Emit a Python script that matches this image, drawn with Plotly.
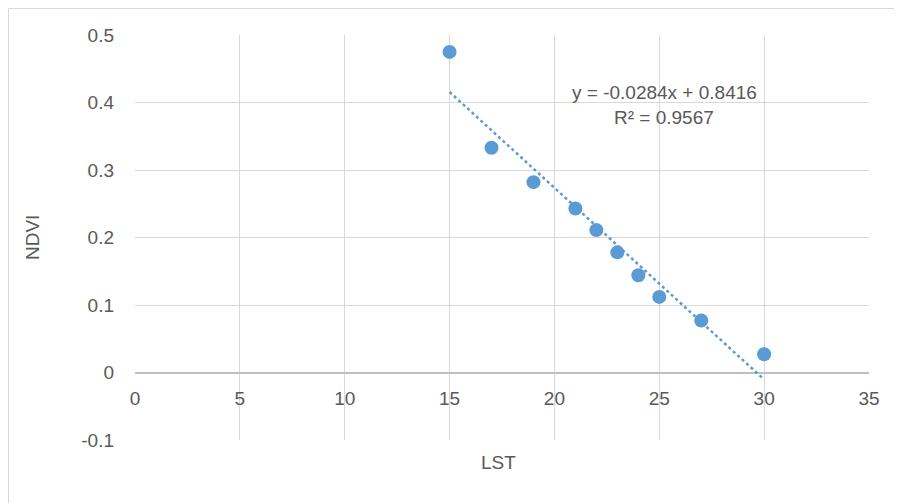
import plotly.graph_objects as go

# Data
lst = [15, 17, 19, 21, 22, 23, 24, 25, 27, 30]
ndvi = [0.475, 0.333, 0.282, 0.243, 0.211, 0.178, 0.144, 0.112, 0.077, 0.027]
slope = -0.0284
intercept = 0.8416
r2 = 0.9567
x_ticks = [0, 5, 10, 15, 20, 25, 30, 35]
y_ticks = [-0.1, 0, 0.1, 0.2, 0.3, 0.4, 0.5]
y_tick_text = ["-0.1", "0", "0.1", "0.2", "0.3", "0.4", "0.5"]

blue = "#5B9BD5"
grey_text = "#595959"
grid = "#D9D9D9"
FONT = "Liberation Sans"
FS = 19

trend_x = [min(lst), max(lst)]
trend_y = [slope * v + intercept for v in trend_x]

# page offset of 8px (body margin) is compensated in the margins
OFF = 8
L, R, T, B = 135 - OFF, 33, 35 - OFF, 63
W, H = 902 - OFF, 503 - OFF
PW = W - L - R
PH = H - T - B


def px_x(p):
    return (p - OFF - L) / PW


def px_y(p):
    return 1 - (p - OFF - T) / PH


trend = go.Scatter(x=trend_x, y=trend_y, mode="lines",
                   line=dict(color=blue, width=2.5, dash="dot"),
                   hoverinfo="skip", showlegend=False)
points = go.Scatter(x=lst, y=ndvi, mode="markers",
                    marker=dict(color=blue, size=14), showlegend=False)

fig = go.Figure([trend, points])

fig.update_layout(
    width=W, height=H,
    margin=dict(l=L, r=R, t=T, b=B, pad=0),
    paper_bgcolor="white", plot_bgcolor="white",
    font=dict(family=FONT, size=FS, color=grey_text),
    showlegend=False,
    xaxis=dict(range=[0, 35], tickvals=x_ticks, showgrid=True, gridcolor=grid,
               gridwidth=1, zeroline=False, showline=False, ticks="",
               anchor="free", position=1/6, ticklabelstandoff=12,
               tickfont=dict(family=FONT, size=FS, color=grey_text)),
    yaxis=dict(range=[-0.1, 0.5], tickvals=y_ticks, ticktext=y_tick_text,
               showgrid=True, gridcolor=grid, gridwidth=1,
               zeroline=True, zerolinecolor="#BFBFBF", zerolinewidth=2,
               showline=False, ticks="", ticklabelstandoff=20,
               tickfont=dict(family=FONT, size=FS, color=grey_text)),
    shapes=[dict(type="rect", xref="paper", yref="paper",
                 x0=px_x(8.5), x1=px_x(1000), y0=px_y(600), y1=px_y(8.5),
                 line=dict(color=grid, width=1), fillcolor="rgba(0,0,0,0)",
                 layer="below")],
    annotations=[
        dict(text=f"y = {slope}x + {intercept}", x=px_x(664), y=px_y(92),
             xref="paper", yref="paper", xanchor="center", yanchor="middle",
             showarrow=False, font=dict(family=FONT, size=FS, color=grey_text)),
        dict(text=f"R² = {r2}", x=px_x(664), y=px_y(117),
             xref="paper", yref="paper", xanchor="center", yanchor="middle",
             showarrow=False, font=dict(family=FONT, size=FS, color=grey_text)),
        dict(text="LST", x=px_x(498), y=px_y(463), xref="paper", yref="paper",
             xanchor="center", yanchor="middle", showarrow=False,
             font=dict(family=FONT, size=FS, color=grey_text)),
        dict(text="NDVI", x=px_x(32), y=px_y(238), xref="paper", yref="paper",
             xanchor="center", yanchor="middle", textangle=-90, showarrow=False,
             font=dict(family=FONT, size=FS, color=grey_text)),
    ],
)

fig.write_html("out.html")
